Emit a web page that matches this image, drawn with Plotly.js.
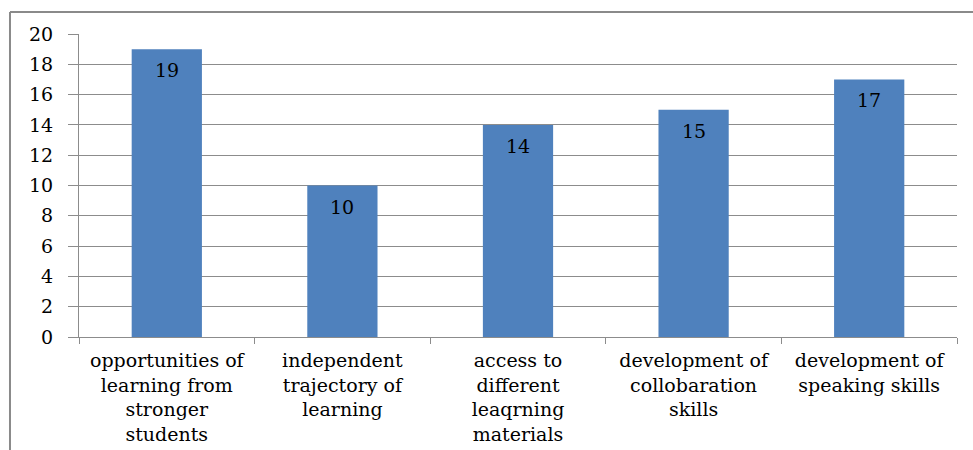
<!DOCTYPE html>
<html>
<head>
<meta charset="utf-8">
<script src="https://cdn.plot.ly/plotly-3.0.1.min.js"></script>
<style>
html,body{margin:0;padding:0;background:#fff;}
#chart{width:973px;height:450px;}
</style>
</head>
<body>
<div id="chart"></div>
<script>
const categories = [
  "opportunities of<br>learning from<br>stronger<br>students",
  "independent<br>trajectory of<br>learning",
  "access to<br>different<br>leaqrning<br>materials",
  "development of<br>collobaration<br>skills",
  "development of<br>speaking skills"
];
const values = [19, 10, 14, 15, 17];
const yTicks = [0, 2, 4, 6, 8, 10, 12, 14, 16, 18, 20];

const serif = "DejaVu Serif, Liberation Serif, serif";
const gridColor = "#8c8c8c";

const trace = {
  type: "bar",
  x: categories,
  y: values,
  marker: {color: "#4F81BD", line: {width: 0}},
  hoverinfo: "none"
};

const annotations = categories.map((c, i) => ({
  x: c, y: values[i], xref: "x", yref: "y",
  text: String(values[i]),
  showarrow: false,
  yanchor: "middle",
  yshift: -21,
  font: {family: serif, size: 19, color: "#000"}
}));

const layout = {
  width: 973, height: 450,
  margin: {l: 79, r: 16, t: 34, b: 113},
  paper_bgcolor: "#fff", plot_bgcolor: "#fff",
  bargap: 0.6,
  showlegend: false,
  xaxis: {
    type: "category",
    showgrid: false,
    showline: true, linecolor: gridColor, linewidth: 1,
    ticks: "outside", ticklen: 6, tickcolor: gridColor,
    tickson: "boundaries",
    ticklabelstandoff: 6,
    tickfont: {family: serif, size: 19, color: "#000"},
    tickangle: 0,
    fixedrange: true
  },
  yaxis: {
    range: [0, 20],
    tickvals: yTicks,
    ticktext: yTicks.map(String),
    showgrid: true, gridcolor: gridColor, gridwidth: 1,
    showline: true, linecolor: gridColor, linewidth: 1,
    ticks: "outside", ticklen: 10, tickcolor: gridColor,
    ticklabelstandoff: 11,
    tickfont: {family: serif, size: 19, color: "#000"},
    zeroline: false,
    fixedrange: true
  },
  annotations: annotations,
  shapes: [
    {type: "line", xref: "paper", yref: "paper", x0: -0.0786, x1: 1.1, y0: 1.0726, y1: 1.0726,
     line: {color: "#8a8a8a", width: 2}},
    {type: "line", xref: "paper", yref: "paper", x0: -0.0786, x1: -0.0786, y0: 1.0726, y1: -0.5,
     line: {color: "#8a8a8a", width: 2}}
  ]
};

Plotly.newPlot("chart", [trace], layout, {displayModeBar: false, staticPlot: true});
</script>
</body>
</html>
